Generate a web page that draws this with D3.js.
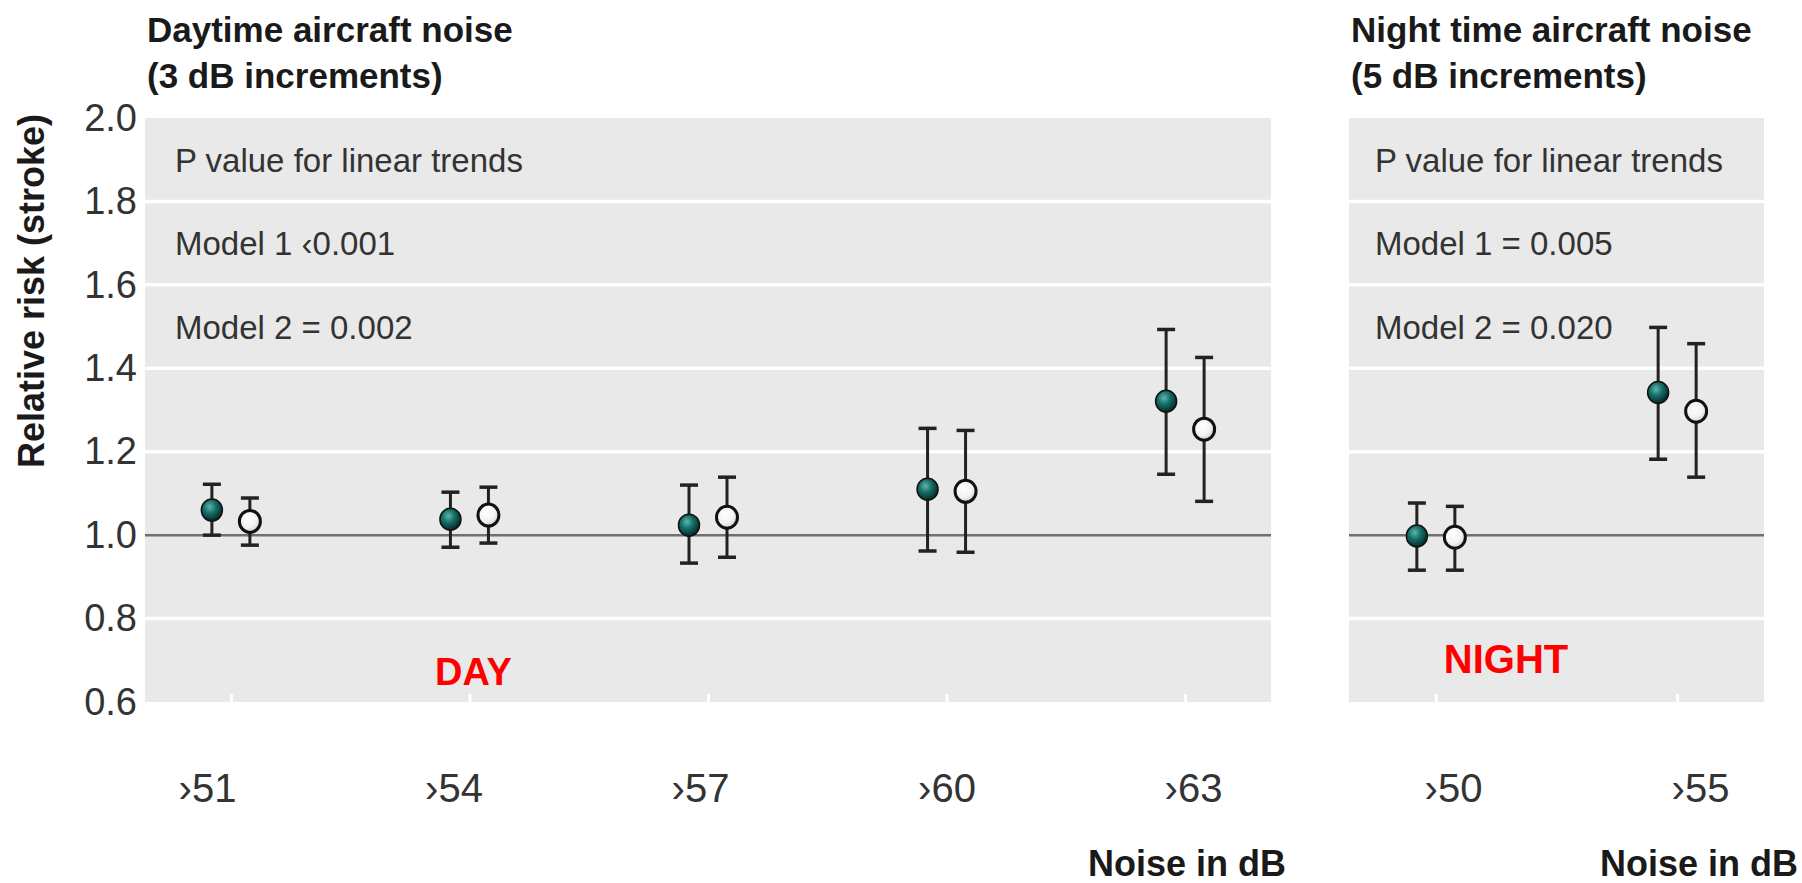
<!DOCTYPE html>
<html>
<head>
<meta charset="utf-8">
<script src="https://cdn.jsdelivr.net/npm/d3@7"></script>
<style>
  body { margin: 0; background: #fff; }
  svg { display: block; font-family: "Liberation Sans", Arial, sans-serif; }
</style>
</head>
<body>
<svg id="chart" width="1802" height="883"></svg>
<script>
// daytime noise, 3 dB bands
const dayCategories = ['›51', '›54', '›57', '›60', '›63'];
const dayModel1 = [1.060, 1.038, 1.024, 1.110, 1.321];
const dayModel1Low = [1.000, 0.971, 0.933, 0.962, 1.146];
const dayModel1High = [1.122, 1.103, 1.120, 1.256, 1.493];
const dayModel2 = [1.033, 1.048, 1.043, 1.105, 1.254];
const dayModel2Low = [0.976, 0.981, 0.947, 0.959, 1.081];
const dayModel2High = [1.089, 1.115, 1.139, 1.251, 1.426];

// night time noise, 5 dB bands
const nightCategories = ['›50', '›55'];
const nightModel1 = [0.998, 1.342];
const nightModel1Low = [0.916, 1.182];
const nightModel1High = [1.077, 1.498];
const nightModel2 = [0.995, 1.297];
const nightModel2Low = [0.916, 1.139];
const nightModel2High = [1.069, 1.459];

const yTicks = [0.6, 0.8, 1.0, 1.2, 1.4, 1.6, 1.8, 2.0];
const gridValues = [0.8, 1.2, 1.4, 1.6, 1.8];

const dayTitle = ['Daytime aircraft noise', '(3 dB increments)'];
const nightTitle = ['Night time aircraft noise', '(5 dB increments)'];
const dayPValues = ['P value for linear trends', 'Model 1 ‹0.001', 'Model 2 = 0.002'];
const nightPValues = ['P value for linear trends', 'Model 1 = 0.005', 'Model 2 = 0.020'];

const FONT = '"Liberation Sans", Arial, sans-serif';
const plotTop = 118, plotBottom = 702;

const svg = d3.select('#chart');
svg.append('rect').attr('width', 1802).attr('height', 883).attr('fill', '#fff');

// shaded ball markers
const defs = svg.append('defs');
const filledGrad = defs.append('radialGradient').attr('id', 'filledBall')
  .attr('cx', '40%').attr('cy', '35%').attr('r', '65%');
filledGrad.append('stop').attr('offset', '0%').attr('stop-color', '#5fb3ad');
filledGrad.append('stop').attr('offset', '45%').attr('stop-color', '#16706a');
filledGrad.append('stop').attr('offset', '100%').attr('stop-color', '#052927');
const openGrad = defs.append('radialGradient').attr('id', 'openBall')
  .attr('cx', '40%').attr('cy', '35%').attr('r', '70%');
openGrad.append('stop').attr('offset', '0%').attr('stop-color', '#ffffff');
openGrad.append('stop').attr('offset', '60%').attr('stop-color', '#f2f2f2');
openGrad.append('stop').attr('offset', '100%').attr('stop-color', '#c8c8c8');

const y = d3.scaleLinear().domain([0.6, 2.0]).range([plotBottom, plotTop]);

const panels = [
  {
    categories: dayCategories, left: 145, right: 1271, labelRange: [207, 1193],
    series: [
      { values: dayModel1, low: dayModel1Low, high: dayModel1High, fill: 'url(#filledBall)', sw: 1.5, offset: -19 },
      { values: dayModel2, low: dayModel2Low, high: dayModel2High, fill: 'url(#openBall)', sw: 3, offset: 19 }
    ],
    title: dayTitle, pValues: dayPValues, pX: 175, noiseX: 1286,
    tag: 'DAY', tagSize: 38, tagY: 685
  },
  {
    categories: nightCategories, left: 1349, right: 1764, labelRange: [1453, 1700],
    series: [
      { values: nightModel1, low: nightModel1Low, high: nightModel1High, fill: 'url(#filledBall)', sw: 1.5, offset: -19 },
      { values: nightModel2, low: nightModel2Low, high: nightModel2High, fill: 'url(#openBall)', sw: 3, offset: 19 }
    ],
    title: nightTitle, pValues: nightPValues, pX: 1375, noiseX: 1798,
    tag: 'NIGHT', tagSize: 40, tagY: 673
  }
];

function drawPanel(p) {
  const x = d3.scalePoint().domain(p.categories).range([p.left, p.right]).padding(0.36);
  // the printed labels sit a little off the tick notches in the original
  const xLabel = d3.scalePoint().domain(p.categories).range(p.labelRange);
  const g = svg.append('g');

  g.append('rect')
    .attr('x', p.left).attr('y', plotTop)
    .attr('width', p.right - p.left).attr('height', plotBottom - plotTop)
    .attr('fill', '#e9e9e9');

  g.selectAll('line.grid')
    .data(gridValues)
    .join('line')
    .attr('class', 'grid')
    .attr('x1', p.left).attr('x2', p.right)
    .attr('y1', d => y(d)).attr('y2', d => y(d))
    .attr('stroke', '#fff').attr('stroke-width', 3.5);

  // no-effect line at RR = 1
  g.append('line')
    .attr('x1', p.left).attr('x2', p.right)
    .attr('y1', y(1)).attr('y2', y(1))
    .attr('stroke', '#707070').attr('stroke-width', 2.5);

  // small white notches at the bottom of the panel
  g.append('g')
    .attr('transform', `translate(0,${plotBottom + 2})`)
    .call(d3.axisBottom(x).tickSizeInner(-10).tickSizeOuter(0).tickFormat(''))
    .call(a => a.select('.domain').remove())
    .call(a => a.selectAll('.tick line').attr('stroke', '#fff').attr('stroke-width', 3));

  // category labels well below the panel
  g.append('g')
    .attr('transform', `translate(0,${plotBottom + 2})`)
    .call(d3.axisBottom(xLabel).tickSize(0).tickPadding(70))
    .call(a => a.select('.domain').remove())
    .call(a => a.attr('font-family', FONT).attr('font-size', 40))
    .call(a => a.selectAll('.tick text').attr('fill', '#333'));

  // title
  g.append('text')
    .attr('x', p.left + 2).attr('y', 42)
    .attr('font-size', 35).attr('font-weight', 'bold').attr('fill', '#1a1a1a')
    .selectAll('tspan')
    .data(p.title)
    .join('tspan')
    .attr('x', p.left + 2)
    .attr('dy', (d, i) => i === 0 ? 0 : 46)
    .text(d => d);

  // p values for linear trend, one per grey band
  g.selectAll('text.pval')
    .data(p.pValues)
    .join('text')
    .attr('class', 'pval')
    .attr('x', p.pX)
    .attr('y', (d, i) => y(1.9 - i * 0.2) + 12)
    .attr('font-size', 33).attr('fill', '#333')
    .text(d => d);

  // estimates with 95% CI
  p.series.forEach(s => {
    const pts = p.categories.map((c, i) => ({ cx: x(c) + s.offset, v: s.values[i], lo: s.low[i], hi: s.high[i] }));
    const sg = g.append('g');
    sg.selectAll('line.ci')
      .data(pts).join('line').attr('class', 'ci')
      .attr('x1', d => d.cx).attr('x2', d => d.cx)
      .attr('y1', d => y(d.lo)).attr('y2', d => y(d.hi))
      .attr('stroke', '#222').attr('stroke-width', 3);
    ['lo', 'hi'].forEach(k => {
      sg.selectAll('line.cap-' + k)
        .data(pts).join('line').attr('class', 'cap-' + k)
        .attr('x1', d => d.cx - 9).attr('x2', d => d.cx + 9)
        .attr('y1', d => y(d[k])).attr('y2', d => y(d[k]))
        .attr('stroke', '#222').attr('stroke-width', 3.5);
    });
    sg.selectAll('ellipse')
      .data(pts).join('ellipse')
      .attr('cx', d => d.cx).attr('cy', d => y(d.v))
      .attr('rx', 10.5).attr('ry', 11)
      .attr('fill', s.fill)
      .attr('stroke', '#111').attr('stroke-width', s.sw);
  });

  g.append('text')
    .attr('x', p.noiseX).attr('y', 876)
    .attr('text-anchor', 'end')
    .attr('font-size', 36).attr('font-weight', 'bold').attr('fill', '#1a1a1a')
    .text('Noise in dB');

  return x;
}

const xDay = drawPanel(panels[0]);
const xNight = drawPanel(panels[1]);

// red panel tags
svg.append('text')
  .attr('x', xDay('›54') + 4).attr('y', panels[0].tagY)
  .attr('text-anchor', 'middle')
  .attr('font-size', panels[0].tagSize).attr('font-weight', 'bold').attr('fill', '#ff0000')
  .text(panels[0].tag);
svg.append('text')
  .attr('x', 1506).attr('y', panels[1].tagY)
  .attr('text-anchor', 'middle')
  .attr('font-size', panels[1].tagSize).attr('font-weight', 'bold').attr('fill', '#ff0000')
  .text(panels[1].tag);

// y axis
svg.append('g')
  .attr('transform', 'translate(145,0)')
  .call(d3.axisLeft(y).tickValues(yTicks).tickFormat(d3.format('.1f')).tickSize(0).tickPadding(8))
  .call(a => a.select('.domain').remove())
  .call(a => a.attr('font-family', FONT).attr('font-size', 38))
  .call(a => a.selectAll('.tick text').attr('fill', '#333'));

svg.append('text')
  .attr('transform', 'translate(44,291) rotate(-90)')
  .attr('text-anchor', 'middle')
  .attr('font-size', 36).attr('font-weight', 'bold').attr('fill', '#1a1a1a')
  .text('Relative risk (stroke)');
</script>
</body>
</html>
